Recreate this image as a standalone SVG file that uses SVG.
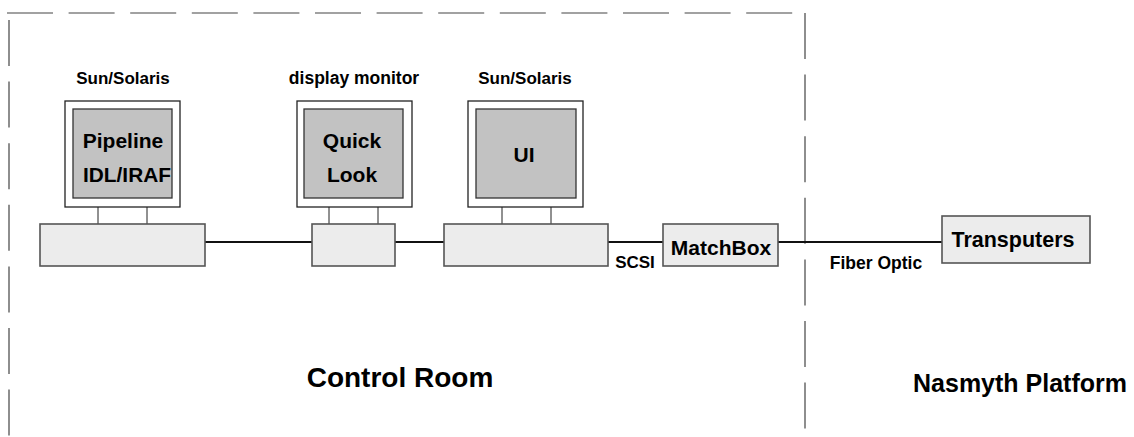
<svg xmlns="http://www.w3.org/2000/svg" width="1134" height="437" viewBox="0 0 1134 437">
<style>
text{font-family:"Liberation Sans",Arial,sans-serif;font-weight:bold;fill:#000;text-anchor:middle}
.border{fill:none;stroke:#444;stroke-width:1.2;stroke-dasharray:46 15.6}
.monitor{fill:#fff;stroke:#222;stroke-width:1.3}
.screen{fill:#c2c2c2;stroke:#333;stroke-width:1.3}
.box{fill:#ececec;stroke:#555;stroke-width:1.6}
.stand{stroke:#222;stroke-width:1}
.link{stroke:#111;stroke-width:2;fill:none}
</style>
<g id="boundaries">
<line class="border" x1="7" y1="13" x2="805" y2="13"/>
<line class="border" x1="9" y1="20" x2="9" y2="437"/>
<line class="border" x1="805" y1="13" x2="805" y2="437"/>
</g>
<g id="connectors">
<line class="link" x1="205" y1="242" x2="312" y2="242"/>
<line class="link" x1="395" y1="242" x2="444" y2="242"/>
<line class="link" x1="608" y1="242" x2="663" y2="242"/>
<line class="link" x1="778" y1="242" x2="942" y2="242"/>
</g>
<g id="pipeline">
<text x="123" y="84" font-size="17">Sun/Solaris</text>
<rect class="monitor" x="65" y="101" width="115" height="106"/>
<rect class="screen" x="73" y="109" width="99" height="89"/>
<line class="stand" x1="98" y1="207" x2="98" y2="224"/>
<line class="stand" x1="147" y1="207" x2="147" y2="224"/>
<rect class="box" x="40" y="224" width="165" height="42"/>
<text x="123" y="148" font-size="21">Pipeline</text>
<text x="127" y="182" font-size="21" textLength="88" lengthAdjust="spacingAndGlyphs">IDL/IRAF</text>
</g>
<g id="quicklook">
<text x="354" y="84" font-size="17.5">display monitor</text>
<rect class="monitor" x="297" y="101" width="115" height="106"/>
<rect class="screen" x="304" y="109" width="99" height="89"/>
<line class="stand" x1="329" y1="207" x2="329" y2="224"/>
<line class="stand" x1="378" y1="207" x2="378" y2="224"/>
<rect class="box" x="312" y="224" width="83" height="42"/>
<text x="352" y="148" font-size="21">Quick</text>
<text x="352" y="182" font-size="21">Look</text>
</g>
<g id="ui">
<text x="525" y="84" font-size="17">Sun/Solaris</text>
<rect class="monitor" x="468" y="101" width="115" height="106"/>
<rect class="screen" x="476" y="109" width="100" height="89"/>
<line class="stand" x1="502" y1="207" x2="502" y2="224"/>
<line class="stand" x1="551" y1="207" x2="551" y2="224"/>
<rect class="box" x="444" y="224" width="164" height="42"/>
<text x="524" y="162" font-size="21">UI</text>
</g>
<g id="matchbox">
<rect class="box" x="663" y="224" width="115" height="42"/>
<text x="721" y="255" font-size="21">MatchBox</text>
</g>
<g id="transputers">
<rect class="box" x="942" y="216" width="148" height="47"/>
<text x="1013" y="247" font-size="21.5">Transputers</text>
</g>
<g id="labels">
<text x="635" y="268" font-size="17">SCSI</text>
<text x="876" y="269" font-size="17.5">Fiber Optic</text>
<text x="400" y="387" font-size="28">Control Room</text>
<text x="1020" y="392" font-size="25">Nasmyth Platform</text>
</g>
</svg>
